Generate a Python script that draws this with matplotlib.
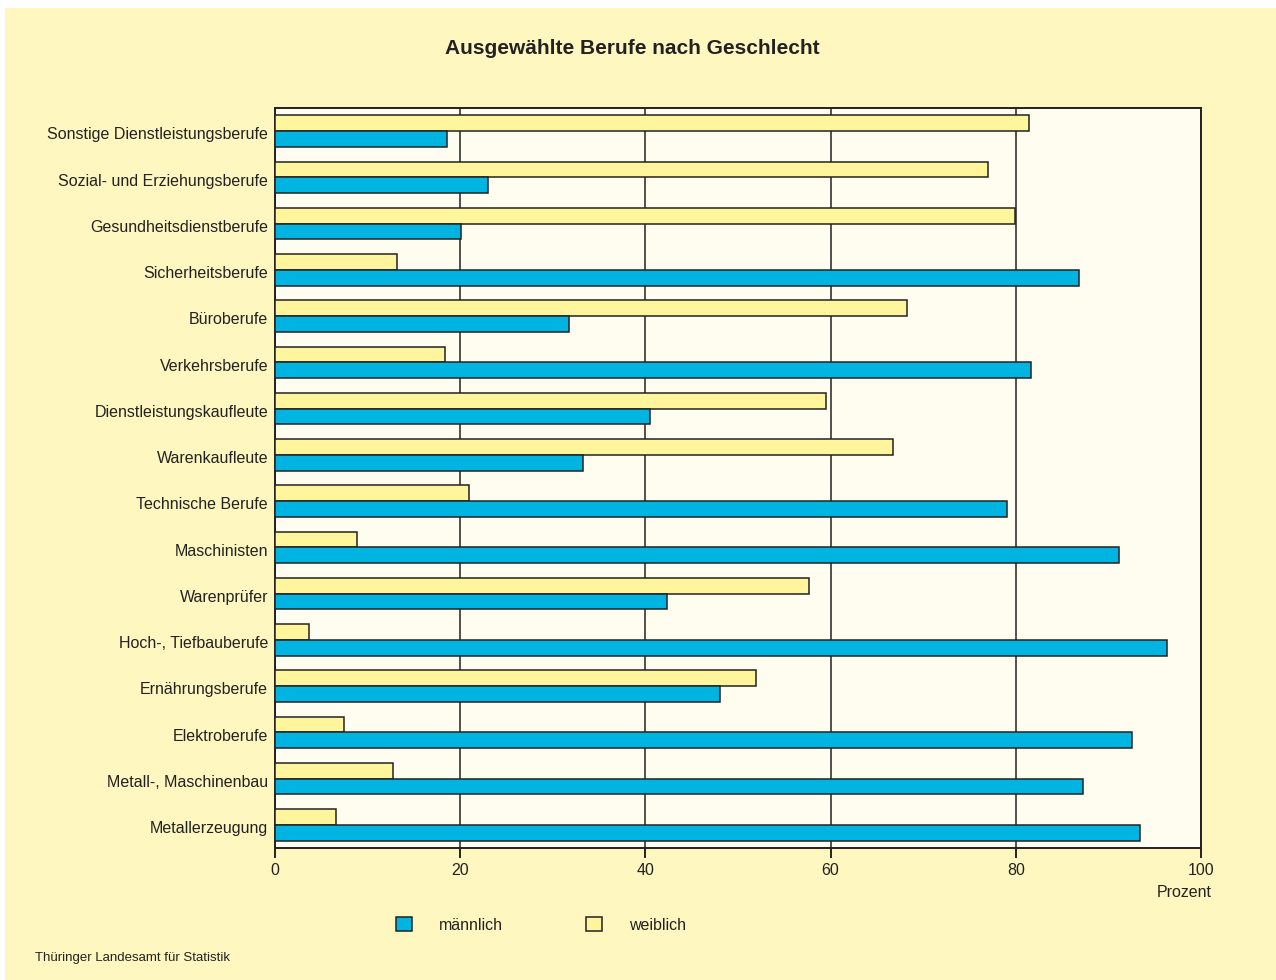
import numpy as np
import matplotlib.pyplot as plt
from matplotlib.patches import Patch, Rectangle

plt.rcParams['font.family'] = ['Liberation Sans', 'DejaVu Sans']

berufe = [
    'Sonstige Dienstleistungsberufe', 'Sozial- und Erziehungsberufe',
    'Gesundheitsdienstberufe', 'Sicherheitsberufe', 'Büroberufe',
    'Verkehrsberufe', 'Dienstleistungskaufleute', 'Warenkaufleute',
    'Technische Berufe', 'Maschinisten', 'Warenprüfer',
    'Hoch-, Tiefbauberufe', 'Ernährungsberufe', 'Elektroberufe',
    'Metall-, Maschinenbau', 'Metallerzeugung',
]
maennlich = [18.6, 23.0, 20.1, 86.8, 31.7, 81.6, 40.5, 33.3,
             79.0, 91.1, 42.3, 96.3, 48.1, 92.6, 87.3, 93.4]
weiblich = [81.4, 77.0, 79.9, 13.2, 68.3, 18.4, 59.5, 66.7,
            21.0, 8.9, 57.7, 3.7, 51.9, 7.4, 12.7, 6.6]
xticks = [0, 20, 40, 60, 80, 100]

BG = '#fff7bf'
PLOT_BG = '#fffdf0'
BLUE = '#00b4e1'
YELLOW = '#fff59c'
INK = '#222222'


def plot_berufe():
    fig = plt.figure(figsize=(12.76, 9.8), dpi=100, facecolor='white')
    fig.patches.append(Rectangle((5 / 1276, 0), 1, 972 / 980, transform=fig.transFigure,
                                 facecolor=BG, edgecolor='none', zorder=-10))
    ax = fig.add_axes([275 / 1276, 132 / 980, 926 / 1276, 740 / 980])
    ax.set_facecolor(PLOT_BG)

    n = len(berufe)
    y = np.arange(n)[::-1]
    h = 0.34
    ax.barh(y + h / 2, weiblich, height=h, color=YELLOW, edgecolor=INK,
            linewidth=1.1, zorder=3)
    ax.barh(y - h / 2, maennlich, height=h, color=BLUE, edgecolor=INK,
            linewidth=1.1, zorder=3)

    ax.set_xlim(0, 100)
    ax.set_ylim(-0.5, n - 0.5)
    ax.set_xticks(xticks)
    ax.set_xticklabels([str(t) for t in xticks], fontsize=11.5, color=INK)
    ax.set_yticks(y - 0.05)
    ax.set_yticklabels(berufe, fontsize=11.5, color=INK)
    ax.tick_params(axis='y', length=0, pad=5)
    ax.tick_params(axis='x', length=7, width=1.2, direction='out', pad=4)
    for s in ax.spines.values():
        s.set_linewidth(1.4)
        s.set_color(INK)
    ax.grid(axis='x', color=INK, linewidth=1.1, zorder=1)
    ax.set_axisbelow(True)

    fig.text(632 / 1276, 1 - 48 / 980, 'Ausgewählte Berufe nach Geschlecht', ha='center',
             va='center', fontsize=15, fontweight='bold', color=INK)
    fig.text(1212 / 1276, 1 - 892 / 980, 'Prozent', ha='right', va='center',
             fontsize=11.5, color=INK)
    fig.text(35 / 1276, 1 - 958 / 980, 'Thüringer Landesamt für Statistik', ha='left',
             va='center', fontsize=9.5, color=INK)

    handles = [Patch(facecolor=BLUE, edgecolor=INK, linewidth=1.1, label='männlich'),
               Patch(facecolor=YELLOW, edgecolor=INK, linewidth=1.1, label='weiblich')]
    fig.legend(handles=handles, loc='center', bbox_to_anchor=(541 / 1276, 1 - 925 / 980),
               ncol=2, frameon=False, fontsize=11.5, handlelength=1.0, handleheight=1.0,
               handletextpad=1.7, columnspacing=5.2, labelcolor=INK)

    fig.savefig('out.png', dpi=100, facecolor='white')


if __name__ == '__main__':
    plot_berufe()
